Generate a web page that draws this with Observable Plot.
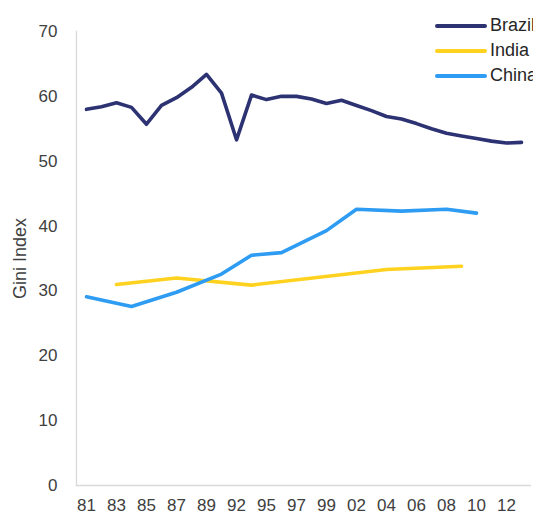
<!DOCTYPE html>
<html>
<head>
<meta charset="utf-8">
<script src="https://cdn.jsdelivr.net/npm/d3@7"></script>
<script src="https://cdn.jsdelivr.net/npm/@observablehq/plot@0.6"></script>
<style>
  html, body { margin: 0; padding: 0; background: #fff; overflow: hidden; width: 533px; height: 515px; }
  #wrap { position: relative; width: 533px; height: 515px; overflow: hidden; }
  #legend { position: absolute; left: 434px; top: 13px; font-family: "Liberation Sans", Arial, sans-serif; font-size: 18px; color: #262626; white-space: nowrap; }
  .item { display: flex; align-items: center; height: 25px; }
  .item svg { margin-right: 3px; }
</style>
</head>
<body>
<div id="wrap"><div id="legend"></div></div>
<script>
const years = ["81","82","83","84","85","86","87","88","89","90","92","93","95","96","97","98","99","01","02","03","04","05","06","07","08","09","10","11","12","13"];
const tickLabels = ["81","83","85","87","89","92","95","97","99","02","04","06","08","10","12"];
const yTicks = [0,10,20,30,40,50,60,70];

const brazilYears = years;
const brazilValues = [58.0,58.4,59.0,58.3,55.7,58.6,59.8,61.4,63.4,60.5,53.3,60.2,59.5,60.0,60.0,59.6,58.9,59.4,58.6,57.8,56.9,56.5,55.8,55.0,54.3,53.9,53.5,53.1,52.8,52.9];

const indiaYears = ["83","87","93","04","09"];
const indiaValues = [31.0,32.0,30.9,33.3,33.8];

const chinaYears = ["81","84","87","90","93","96","99","02","05","08","10"];
const chinaValues = [29.1,27.6,29.8,32.6,35.5,35.9,39.3,42.6,42.3,42.6,42.0];

const seriesNames = ["Brazil","India","China"];
const seriesColors = ["#2c3272","#ffd21f","#2e9cf2"];

const toRows = (ys, vs) => ys.map((y, i) => ({year: y, value: vs[i]}));
const brazil = toRows(brazilYears, brazilValues);
const india = toRows(indiaYears, indiaValues);
const china = toRows(chinaYears, chinaValues);

const lineOpts = {x: "year", y: "value", strokeWidth: 3.6, strokeLinejoin: "round", strokeLinecap: "round"};

const chart = Plot.plot({
  width: 533,
  height: 515,
  marginLeft: 76,
  marginRight: 2,
  marginTop: 31,
  marginBottom: 30,
  style: {fontFamily: "\"Liberation Sans\", Arial, sans-serif", fontSize: "17px", color: "#404040", background: "#fff"},
  x: {type: "point", domain: years, padding: 0.5},
  y: {domain: [0, 70]},
  marks: [
    Plot.frame({anchor: "left", stroke: "#d9d9d9", strokeWidth: 1.3}),
    Plot.ruleY([0], {stroke: "#d9d9d9", strokeWidth: 1.3}),
    Plot.axisY({ticks: yTicks, tickSize: 0, tickPadding: 19, label: null, fontSize: 17}),
    Plot.axisX({ticks: tickLabels, tickSize: 0, tickPadding: 13, label: null, fontSize: 17}),
    Plot.text(["Gini Index"], {frameAnchor: "left", textAnchor: "middle", lineAnchor: "middle", dx: -56, rotate: -90, fontSize: 18, fill: "#404040"}),
    Plot.line(brazil, {...lineOpts, stroke: seriesColors[0]}),
    Plot.line(india, {...lineOpts, stroke: seriesColors[1]}),
    Plot.line(china, {...lineOpts, stroke: seriesColors[2]})
  ]
});
const wrap = document.getElementById("wrap");
wrap.insertBefore(chart, wrap.firstChild);

const legend = d3.select("#legend");
seriesNames.forEach((name, i) => {
  const item = legend.append("div").attr("class", "item");
  const svg = item.append("svg").attr("width", 53).attr("height", 10);
  svg.append("line").attr("x1", 3).attr("x2", 51).attr("y1", 5).attr("y2", 5)
    .attr("stroke", seriesColors[i]).attr("stroke-width", 4).attr("stroke-linecap", "round");
  item.append("span").text(name);
});
</script>
</body>
</html>
